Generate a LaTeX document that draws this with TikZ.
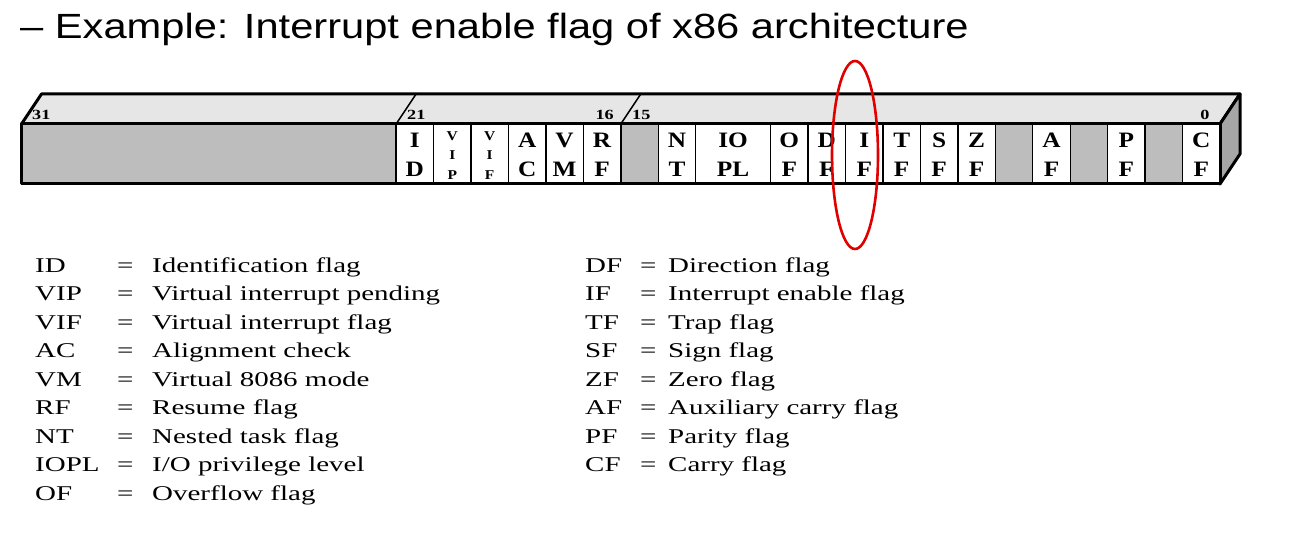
\documentclass[tikz,border=0pt]{standalone}
\usepackage{fontspec}
\setmainfont{Liberation Serif}
\newfontfamily\titlefont[FakeStretch=1.19]{Liberation Sans}
\newfontfamily\legfont[FakeStretch=1.38]{Liberation Serif}
\newfontfamily\cellfont[FakeStretch=1.15]{Liberation Serif}
\newfontfamily\numfont[FakeStretch=1.3]{Liberation Serif}
\definecolor{topgray}{HTML}{E6E6E6}
\definecolor{cellgray}{HTML}{BDBDBD}
\definecolor{sidegray}{HTML}{A6A6A6}
\definecolor{ringred}{HTML}{E00000}
\tikzset{
  cellbox/.style={draw=black, line width=1.4pt, inner sep=0pt, minimum height=60pt, minimum width=37.45pt},
  whitecell/.style={cellbox, fill=white},
  graycell/.style={cellbox, fill=cellgray},
  celltxt/.style={anchor=base, inner sep=0pt, font=\cellfont\bfseries\fontsize{22}{22}\selectfont},
  smalltxt/.style={anchor=base, inner sep=0pt, font=\cellfont\bfseries\fontsize{13.5}{13.5}\selectfont},
  bitnum/.style={inner sep=0pt, font=\numfont\bfseries\fontsize{14}{14}\selectfont},
  legtxt/.style={anchor=base west, inner sep=0pt, font=\legfont\fontsize{21}{21}\selectfont},
  outline/.style={draw=black, line width=3pt, line join=round},
}
\begin{document}
\begin{tikzpicture}[x=1pt, y=-1pt]
\useasboundingbox (0,0) rectangle (1295,548);
\fill[white] (0,0) rectangle (1295,548);
% title
\node[anchor=base west, inner sep=0pt, font=\titlefont\fontsize{35}{35}\selectfont] (title) at (20,39) {– Example: Interrupt enable flag of x86 architecture};
% top face and right face
\coordinate (fl) at (21.5,124);
\coordinate (fr) at (1220,124);
\coordinate (bl) at (41.5,94);
\coordinate (br) at (1240,94);
\coordinate (frb) at (1220,184);
\coordinate (brb) at (1240,154);
\coordinate (flb) at (21.5,184);
\filldraw[outline, fill=topgray] (fl) -- (bl) -- (br) -- (fr) -- cycle;
\filldraw[outline, fill=sidegray] (fr) -- (br) -- (brb) -- (frb) -- cycle;
% gray cells
\node[graycell, minimum width=374.6pt] (rsv) at (208.8,154) {};
\foreach \b in {15,5,3,1} {
  \node[graycell] (g\b) at ({1220-(\b+0.5)*37.45},154) {};
}
% white cells with two-letter labels
\foreach \b/\ta/\tb in {21/I/D, 18/A/C, 17/V/M, 16/R/F, 14/N/T, 11/O/F, 10/D/F, 9/I/F, 8/T/F, 7/S/F, 6/Z/F, 4/A/F, 2/P/F, 0/C/F} {
  \node[whitecell] (c\b) at ({1220-(\b+0.5)*37.45},154) {};
  \node[celltxt] (c\b a) at ({1220-(\b+0.5)*37.45},148) {\ta};
  \node[celltxt] (c\b b) at ({1220-(\b+0.5)*37.45},177) {\tb};
}
% IOPL (two bits)
\node[whitecell, minimum width=74.9pt] (iopl) at (733.15,154) {};
\node[celltxt] (iopla) at (733.15,148) {IO};
\node[celltxt] (ioplb) at (733.15,177) {PL};
% VIP, VIF
\foreach \b/\tc in {20/P, 19/F} {
  \node[whitecell] (c\b) at ({1220-(\b+0.5)*37.45},154) {};
  \node[smalltxt] (c\b a) at ({1220-(\b+0.5)*37.45},141) {V};
  \node[smalltxt] (c\b b) at ({1220-(\b+0.5)*37.45},160) {I};
  \node[smalltxt] (c\b c) at ({1220-(\b+0.5)*37.45},180) {\tc};
}
% front outline
\draw[outline] (fl) rectangle (frb);
% slashes on top face
\coordinate (s21) at (396.1,124);
\coordinate (s21t) at (416.1,94);
\coordinate (s15) at (620.8,124);
\coordinate (s15t) at (640.8,94);
\draw[line width=1.5pt] (s21) -- (s21t);
\draw[line width=1.5pt] (s15) -- (s15t);
% bit numbers
\node[bitnum, anchor=base west] (n31) at (32,120) {31};
\node[bitnum, anchor=base west] (n21) at (407,120) {21};
\node[bitnum, anchor=base east] (n16) at (614,120) {16};
\node[bitnum, anchor=base west] (n15) at (632,120) {15};
\node[bitnum, anchor=base] (n0) at (1205,120) {0};
% legend left
\foreach \i/\ab/\de in {0/ID/Identification flag, 1/VIP/Virtual interrupt pending, 2/VIF/Virtual interrupt flag, 3/AC/Alignment check, 4/VM/Virtual 8086 mode, 5/RF/Resume flag, 6/NT/Nested task flag, 7/IOPL/I\slash O privilege level, 8/OF/Overflow flag} {
  \node[legtxt] (la\i) at (35,{272+\i*28.5}) {\ab};
  \node[legtxt] (le\i) at (117,{272+\i*28.5}) {=};
  \node[legtxt] (ld\i) at (152,{272+\i*28.5}) {\de};
}
% legend right
\foreach \i/\ab/\de in {0/DF/Direction flag, 1/IF/Interrupt enable flag, 2/TF/Trap flag, 3/SF/Sign flag, 4/ZF/Zero flag, 5/AF/Auxiliary carry flag, 6/PF/Parity flag, 7/CF/Carry flag} {
  \node[legtxt] (ra\i) at (585,{272+\i*28.5}) {\ab};
  \node[legtxt] (re\i) at (640,{272+\i*28.5}) {=};
  \node[legtxt] (rd\i) at (668,{272+\i*28.5}) {\de};
}
% red ring
\draw[ringred, line width=2.6pt] (855,155) ellipse [x radius=23, y radius=94];
\end{tikzpicture}
\end{document}
